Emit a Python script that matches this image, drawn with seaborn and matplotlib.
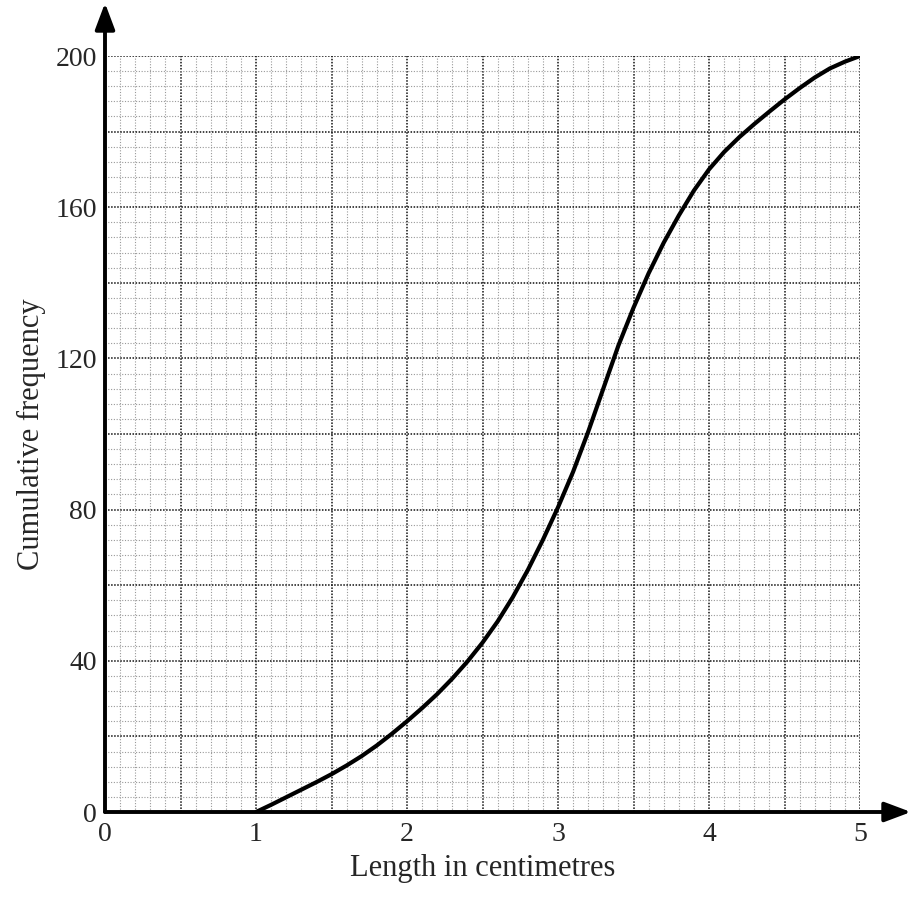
import matplotlib
matplotlib.use('Agg')
import matplotlib.pyplot as plt
import seaborn as sns
from matplotlib.ticker import MultipleLocator, FuncFormatter

# values
length_cm = [1.0, 1.1, 1.2, 1.3, 1.4, 1.5, 1.6, 1.7, 1.8, 1.9,
             2.0, 2.1, 2.2, 2.3, 2.4, 2.5, 2.6, 2.7, 2.8, 2.9,
             3.0, 3.1, 3.2, 3.3, 3.4, 3.5, 3.6, 3.7, 3.8, 3.9,
             4.0, 4.1, 4.2, 4.3, 4.4, 4.5, 4.6, 4.7, 4.8, 4.9, 5.0]
cum_freq = [0, 1.9, 3.9, 5.9, 7.9, 10.0, 12.3, 14.8, 17.6, 20.7,
            24, 27.5, 31.2, 35.3, 39.8, 44.8, 50.4, 56.8, 64.0, 72.0,
            80.6, 90, 100.6, 112, 123.4, 133.4, 142.5, 150.6, 157.8, 164.4,
            170.0, 174.6, 178.5, 182, 185.3, 188.5, 191.5, 194.3, 196.7, 198.5, 200]

x_labels = [0, 1, 2, 3, 4, 5]
y_labels = [0, 40, 80, 120, 160, 200]

sns.set_style('white')
plt.rcParams['font.family'] = ['Liberation Serif', 'DejaVu Serif']

W, H = 913, 900
fig = plt.figure(figsize=(W / 100, H / 100), dpi=100)
ax = fig.add_axes([105 / W, (H - 812) / H, 755 / W, 756 / H])

ax.set_xlim(0, 5)
ax.set_ylim(0, 200)

# graph paper grid
ax.xaxis.set_major_locator(MultipleLocator(0.5))
ax.xaxis.set_minor_locator(MultipleLocator(0.1))
ax.yaxis.set_major_locator(MultipleLocator(20))
ax.yaxis.set_minor_locator(MultipleLocator(4))
ax.grid(which='minor', color='#9a9a9a', linestyle=(0, (1, 1.5)), linewidth=0.8)
ax.grid(which='major', color='#111111', linestyle=(0, (1, 1)), linewidth=1.1)
ax.set_axisbelow(True)

ax.xaxis.set_major_formatter(FuncFormatter(
    lambda v, p: f'{int(round(v))}' if round(v, 3) in x_labels else ''))
ax.yaxis.set_major_formatter(FuncFormatter(
    lambda v, p: f'{int(round(v))}' if round(v, 3) in y_labels else ''))
ax.tick_params(which='both', length=0, labelsize=20)
ax.tick_params(axis='x', pad=7)
ax.tick_params(axis='y', pad=6)

for s in ax.spines.values():
    s.set_visible(False)

sns.lineplot(x=length_cm, y=cum_freq, ax=ax, color='black', linewidth=3.0)

# axes with arrow heads
arrow = dict(arrowstyle='-|>,head_length=0.8,head_width=0.3', color='black',
             lw=2.8, mutation_scale=20, shrinkA=0, shrinkB=0)
ax.annotate('', xy=((911 - 105) / 755, 0), xytext=(0, 0),
            xycoords='axes fraction', arrowprops=arrow, annotation_clip=False)
ax.annotate('', xy=(0, (812 - 3) / 756), xytext=(0, 0),
            xycoords='axes fraction', arrowprops=arrow, annotation_clip=False)

ax.set_xlabel('Length in centimetres', fontsize=22)
ax.set_ylabel('Cumulative frequency', fontsize=22)
ax.xaxis.set_label_coords(0.5, -0.056)
ax.yaxis.set_label_coords(-0.078, 0.5)

fig.savefig('out.png', dpi=100)
